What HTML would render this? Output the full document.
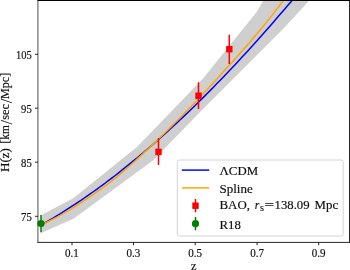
<!DOCTYPE html>
<html><head><meta charset="utf-8"><style>
html,body{margin:0;padding:0;background:#fff}
svg{display:block}
text{font-family:"Liberation Serif","DejaVu Serif",serif;fill:#111;stroke:#111;stroke-width:0.18}
</style></head><body>
<svg width="350" height="270" viewBox="0 0 350 270">
<rect width="350" height="270" fill="#fff"/>
<defs><clipPath id="c"><rect x="37.93" y="0" width="311.57" height="242.4"/></clipPath></defs>
<g clip-path="url(#c)">
<path d="M41.2,215.3 L73.6,198.1 L137.2,146.7 L203.0,78.5 L257.0,11.4 L263.5,0.0 L309.8,0.0 L284.5,27.4 L200.0,112.0 L153.3,160.3 L73.5,218.8 L41.2,233.1Z" fill="#cfcfcf"/>
<path d="M41.2,225.0 L44.2,223.2 L47.3,221.5 L50.4,219.6 L53.5,217.8 L56.6,215.9 L59.7,214.1 L62.7,212.1 L65.8,210.2 L68.9,208.2 L72.0,206.2 L75.1,204.2 L78.2,202.1 L81.3,200.1 L84.3,198.0 L87.4,195.8 L90.5,193.7 L93.6,191.5 L96.7,189.3 L99.8,187.0 L102.8,184.8 L105.9,182.5 L109.0,180.2 L112.1,177.8 L115.2,175.5 L118.3,173.1 L121.3,170.6 L124.4,168.2 L127.5,165.7 L130.6,163.2 L133.7,160.7 L136.8,158.2 L139.8,155.6 L142.9,153.0 L146.0,150.4 L149.1,147.7 L152.2,145.1 L155.3,142.4 L158.4,139.7 L161.4,136.9 L164.5,134.2 L167.6,131.4 L170.7,128.5 L173.8,125.7 L176.9,122.9 L179.9,120.0 L183.0,117.1 L186.1,114.1 L189.2,111.2 L192.3,108.2 L195.4,105.2 L198.4,102.2 L201.5,99.1 L204.6,96.1 L207.7,93.0 L210.8,89.9 L213.9,86.7 L216.9,83.6 L220.0,80.4 L223.1,77.2 L226.2,74.0 L229.3,70.8 L232.4,67.5 L235.5,64.2 L238.5,60.9 L241.6,57.6 L244.7,54.3 L247.8,50.9 L250.9,47.5 L254.0,44.1 L257.0,40.7 L260.1,37.2 L263.2,33.8 L266.3,30.3 L269.4,26.8 L272.5,23.2 L275.5,19.7 L278.6,16.1 L281.7,12.6 L284.8,9.0 L287.9,5.3 L291.0,1.7 L294.0,-2.0 L297.1,-5.6 L300.2,-9.3 L303.3,-13.1 L306.4,-16.8 L309.5,-20.5 L312.6,-24.3 L315.6,-28.1 L318.7,-31.9 L321.8,-35.7 L324.9,-39.6 L328.0,-43.4 L331.1,-47.3 L334.1,-51.2 L337.2,-55.1 L340.3,-59.0 L343.4,-63.0 L346.5,-67.0 L349.6,-70.9" fill="none" stroke="#0000ff" stroke-width="1.5"/>
<path d="M41.2,225.0 L44.2,223.5 L47.3,222.0 L50.4,220.5 L53.5,218.9 L56.6,217.3 L59.7,215.6 L62.7,213.9 L65.8,212.1 L68.9,210.3 L72.0,208.4 L75.1,206.5 L78.2,204.5 L81.3,202.5 L84.3,200.4 L87.4,198.4 L90.5,196.3 L93.6,194.1 L96.7,192.0 L99.8,189.8 L102.8,187.5 L105.9,185.3 L109.0,183.0 L112.1,180.6 L115.2,178.2 L118.3,175.6 L121.3,173.1 L124.4,170.4 L127.5,167.7 L130.6,165.0 L133.7,162.2 L136.8,159.4 L139.8,156.6 L142.9,153.8 L146.0,150.9 L149.1,148.0 L152.2,145.1 L155.3,142.1 L158.4,139.2 L161.4,136.2 L164.5,133.2 L167.6,130.2 L170.7,127.1 L173.8,124.0 L176.9,121.0 L179.9,117.9 L183.0,114.7 L186.1,111.6 L189.2,108.4 L192.3,105.2 L195.4,102.0 L198.4,98.8 L201.5,95.5 L204.6,92.2 L207.7,88.9 L210.8,85.6 L213.9,82.2 L216.9,78.9 L220.0,75.5 L223.1,72.1 L226.2,68.7 L229.3,65.3 L232.4,61.9 L235.5,58.5 L238.5,55.0 L241.6,51.6 L244.7,48.1 L247.8,44.5 L250.9,40.9 L254.0,37.3 L257.0,33.7 L260.1,30.0 L263.2,26.3 L266.3,22.4 L269.4,18.6 L272.5,14.6 L275.5,10.6 L278.6,6.7 L281.7,2.7 L284.8,-1.3 L287.9,-5.3 L291.0,-9.3 L294.0,-13.3 L297.1,-17.4 L300.2,-21.4 L303.3,-25.4 L306.4,-29.4 L309.5,-33.5 L312.6,-37.5 L315.6,-41.6 L318.7,-45.7 L321.8,-49.8 L324.9,-53.9 L328.0,-58.1 L331.1,-62.2 L334.1,-66.3 L337.2,-70.5 L340.3,-74.7 L343.4,-78.9 L346.5,-83.1 L349.6,-87.3" fill="none" stroke="#ffa500" stroke-width="1.5"/>
<g stroke="#ff0000" stroke-width="1.5">
<line x1="158.5" y1="138.1" x2="158.5" y2="165"/>
<line x1="198.5" y1="82.2" x2="198.5" y2="108.9"/>
<line x1="229.3" y1="34.8" x2="229.3" y2="64"/>
</g>
<g fill="#ff0000">
<rect x="155.3" y="148.7" width="6.4" height="6.4"/>
<rect x="195.3" y="92.5" width="6.4" height="6.4"/>
<rect x="226.1" y="46" width="6.4" height="6.4"/>
</g>
</g>
<line x1="41" y1="215" x2="41" y2="232.3" stroke="#008000" stroke-width="1.5"/>
<circle cx="41" cy="223.5" r="3.6" fill="#008000"/>
<!-- spines -->
<g stroke="#262626" fill="none">
<line x1="37.93" y1="0" x2="37.93" y2="242.85" stroke-width="0.9" stroke="#3a3a3a"/>
<line x1="349.5" y1="0" x2="349.5" y2="242.85" stroke-width="1" />
<line x1="37.48" y1="0.5" x2="350" y2="0.5" stroke-width="1.1" stroke="#000"/>
<line x1="37.48" y1="242.4" x2="350" y2="242.4" stroke-width="1"/>
</g>
<g stroke="#000" stroke-width="0.85"><line x1="35.03" y1="54.3" x2="37.93" y2="54.3"/><line x1="35.03" y1="108.2" x2="37.93" y2="108.2"/><line x1="35.03" y1="162.2" x2="37.93" y2="162.2"/><line x1="35.03" y1="216.3" x2="37.93" y2="216.3"/><line x1="72" y1="242.4" x2="72" y2="245.3"/><line x1="133.5" y1="242.4" x2="133.5" y2="245.3"/><line x1="195.2" y1="242.4" x2="195.2" y2="245.3"/><line x1="257.1" y1="242.4" x2="257.1" y2="245.3"/><line x1="318.7" y1="242.4" x2="318.7" y2="245.3"/></g>
<g font-size="11.6" text-anchor="end"><text x="31.8" y="58.8" textLength="15.8" lengthAdjust="spacingAndGlyphs">105</text><text x="31.8" y="112.7" textLength="10.7" lengthAdjust="spacingAndGlyphs">95</text><text x="31.8" y="166.7" textLength="10.7" lengthAdjust="spacingAndGlyphs">85</text><text x="31.8" y="220.8" textLength="10.7" lengthAdjust="spacingAndGlyphs">75</text></g>
<g font-size="11.6" text-anchor="middle"><text x="72" y="257.0" textLength="13.8" lengthAdjust="spacingAndGlyphs">0.1</text><text x="133.5" y="257.0" textLength="13.8" lengthAdjust="spacingAndGlyphs">0.3</text><text x="195.2" y="257.0" textLength="13.8" lengthAdjust="spacingAndGlyphs">0.5</text><text x="257.1" y="257.0" textLength="13.8" lengthAdjust="spacingAndGlyphs">0.7</text><text x="318.7" y="257.0" textLength="13.8" lengthAdjust="spacingAndGlyphs">0.9</text></g>
<text x="193.7" y="269.8" font-size="12.4" text-anchor="middle">z</text>
<g transform="translate(9.4,0) rotate(-90)" font-size="12.2"><text x="-171.9" y="0" textLength="23.7" lengthAdjust="spacingAndGlyphs">H(z)</text><text x="-143.4" y="0" textLength="18.2" lengthAdjust="spacingAndGlyphs">[km</text><text x="-119.7" y="0" textLength="15.7" lengthAdjust="spacingAndGlyphs">sec</text><text x="-98.9" y="0" textLength="26.1" lengthAdjust="spacingAndGlyphs">Mpc]</text><text x="-124.5" y="2.7" font-size="16.5" style="stroke-width:0.1">/</text><text x="-103.2" y="2.7" font-size="16.5" style="stroke-width:0.1">/</text></g>
<!-- legend -->
<rect x="177.3" y="160" width="165.9" height="76" rx="2.2" ry="2.2" fill="#fff" fill-opacity="0.8" stroke="#cfcfcf" stroke-width="0.9"/>
<line x1="181.8" y1="170.1" x2="209.2" y2="170.1" stroke="#0000ff" stroke-width="1.5"/>
<line x1="181.8" y1="187.9" x2="209.2" y2="187.9" stroke="#ffa500" stroke-width="1.5"/>
<line x1="195.5" y1="199" x2="195.5" y2="212.3" stroke="#ff0000" stroke-width="1.5"/>
<rect x="192.3" y="202.5" width="6.4" height="6.4" fill="#ff0000"/>
<line x1="195.5" y1="217" x2="195.5" y2="230.3" stroke="#008000" stroke-width="1.5"/>
<circle cx="195.5" cy="223.7" r="3.6" fill="#008000"/>
<g font-size="13.5">
<text x="219.5" y="174.9" textLength="38.6" lengthAdjust="spacingAndGlyphs">ΛCDM</text>
<text x="219.5" y="192.6" textLength="33.2" lengthAdjust="spacingAndGlyphs">Spline</text>
<text x="219.5" y="209.3" textLength="30.5" lengthAdjust="spacingAndGlyphs">BAO,</text>
<text x="254.8" y="209.3" font-style="italic" textLength="4.6" lengthAdjust="spacingAndGlyphs">r</text>
<text x="260" y="211.3" font-size="9.6" textLength="4" lengthAdjust="spacingAndGlyphs" style="stroke-width:0.05">s</text>
<text x="264.4" y="209.3" textLength="9.6" lengthAdjust="spacingAndGlyphs">=</text>
<text x="274.6" y="209.3" textLength="35" lengthAdjust="spacingAndGlyphs">138.09</text>
<text x="314.6" y="209.3" textLength="23.5" lengthAdjust="spacingAndGlyphs">Mpc</text>
<text x="219.5" y="228.9" textLength="21.4" lengthAdjust="spacingAndGlyphs">R18</text>
</g>
</svg>
</body></html>
